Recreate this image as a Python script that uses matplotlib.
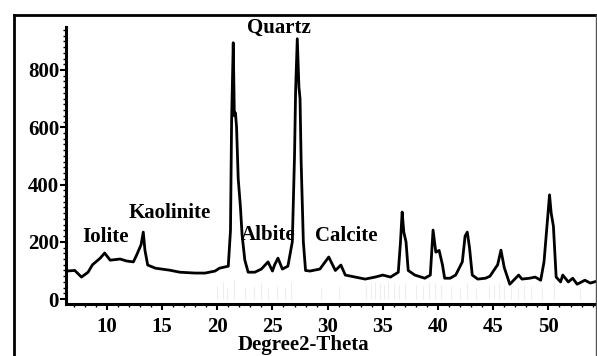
import matplotlib.pyplot as plt
from matplotlib.lines import Line2D
from matplotlib.ticker import MultipleLocator

# XRD pattern, counts vs 2-theta
two_theta = [6.3, 7.1, 7.7, 8.3, 8.7, 9.4, 9.8, 10.3, 11.2, 11.8, 12.4, 12.7,
             13.1, 13.3, 13.45, 13.7, 14.4, 15.7, 16.6, 18.0, 18.9, 19.8, 20.2,
             21.0, 21.2, 21.3, 21.45, 21.55, 21.65, 21.75, 21.9, 22.1, 22.25, 22.5,
             22.8, 23.4, 24.0, 24.6, 25.0, 25.2, 25.5, 25.9, 26.4, 26.8, 27.0,
             27.1, 27.25, 27.4, 27.5, 27.6, 27.8, 28.0, 28.4, 29.3, 30.1, 30.7, 31.2,
             31.6, 32.5, 33.4, 34.3, 35.0, 35.7, 36.4, 36.6, 36.75, 36.9, 37.1,
             37.3, 37.9, 38.8, 39.3, 39.55, 39.8, 40.1, 40.4, 40.6, 41.1, 41.6,
             42.2, 42.45, 42.65, 42.85, 43.1, 43.6, 44.3, 44.7, 45.4, 45.7,
             46.0, 46.5, 47.3, 47.6, 48.3, 48.8, 49.3, 49.6, 49.9, 50.1, 50.25,
             50.45, 50.7, 51.1, 51.3, 51.8, 52.2, 52.6, 53.3, 53.8, 54.4]
counts = [98, 100, 77, 94, 120, 143, 161, 136, 140, 133, 130, 154,
          190, 234, 171, 119, 108, 101, 94, 91, 91, 98, 108,
          115, 240, 620, 895, 640, 650, 600, 420, 322, 224, 136,
          94, 94, 105, 130, 98, 120, 143, 105, 115, 200, 500,
          730, 909, 740, 700, 480, 200, 100, 98, 105, 147, 100, 119,
          84, 77, 70, 77, 84, 77, 94, 200, 304, 234, 200,
          100, 84, 73, 84, 241, 164, 170, 120, 73, 73, 84,
          130, 220, 234, 180, 84, 70, 73, 80, 120, 171,
          110, 52, 84, 70, 73, 77, 66, 130, 270, 364, 300,
          255, 77, 60, 84, 60, 73, 52, 66, 56, 63]

# faint reference sticks under the pattern
stick_pos = [20.0, 20.5, 20.9, 21.5, 22.5, 23.3, 24.0, 24.6, 25.4, 26.1, 26.7,
             29.4, 31.0, 33.5, 33.9, 34.3, 34.7, 35.1, 35.5, 36.0, 36.5, 37.0,
             38.0, 38.6, 39.2, 39.7, 40.3, 41.2, 42.0, 42.6, 43.4, 44.6, 45.1,
             45.5, 46.0, 46.6, 47.2, 47.8, 48.4, 49.4, 50.5, 52.9]
stick_h = [45, 60, 40, 70, 40, 45, 55, 40, 45, 40, 60,
           40, 45, 50, 55, 60, 55, 50, 60, 55, 50, 55,
           50, 45, 60, 55, 50, 45, 40, 55, 40, 45, 50,
           55, 50, 45, 40, 50, 45, 40, 60, 40]

minerals = ["Quartz", "Kaolinite", "Iolite", "Albite", "Calcite"]
label_x = [25.6, 15.7, 9.9, 24.6, 31.7]
label_y = [948, 301, 217, 224, 220]

plt.rcParams["font.family"] = ["Liberation Serif", "DejaVu Serif"]
plt.rcParams["font.weight"] = "bold"

fig = plt.figure(figsize=(5.97, 3.56), dpi=100)
ax = fig.add_axes([66 / 597, 52 / 356, 531 / 597, 277 / 356])

ax.vlines(stick_pos, 0, stick_h, color="#ededed", lw=0.8, zorder=1)
ax.plot(two_theta, counts, color="black", lw=2.0, zorder=3)

for name, x, y in zip(minerals, label_x, label_y):
    ax.text(x, y, name, ha="center", va="center", fontsize=15,
            fontweight="bold", clip_on=False, zorder=4)

ax.set_xlim(6.3, 54.4)
ax.set_ylim(-17, 950)
ax.set_xticks([10, 15, 20, 25, 30, 35, 40, 45, 50])
ax.set_yticks([0, 200, 400, 600, 800])
ax.xaxis.set_minor_locator(MultipleLocator(1))
ax.yaxis.set_minor_locator(MultipleLocator(20))
ax.tick_params(axis="both", which="major", direction="out", length=4,
               width=1.5, labelsize=15, pad=1)
ax.tick_params(axis="both", which="minor", direction="out", length=2.5,
               width=1.0)
ax.tick_params(axis="x", pad=5)

for side in ["top", "right"]:
    ax.spines[side].set_visible(False)
for side in ["left", "bottom"]:
    ax.spines[side].set_linewidth(2.2)

fig.text(303 / 597, 1 - 345 / 356, "Degree2-Theta", ha="center", va="center",
         fontsize=15, fontweight="bold")

# outer frame around the whole plot
fy = 1 - 15 / 356
fig.add_artist(Line2D([14 / 597, 596 / 597], [fy, fy], color="black", lw=2.0))
fig.add_artist(Line2D([14 / 597, 14 / 597], [0, fy], color="black", lw=2.0))
fig.add_artist(Line2D([596 / 597, 596 / 597], [0, fy], color="#555555", lw=1.0))

fig.savefig("out.png", dpi=100)
